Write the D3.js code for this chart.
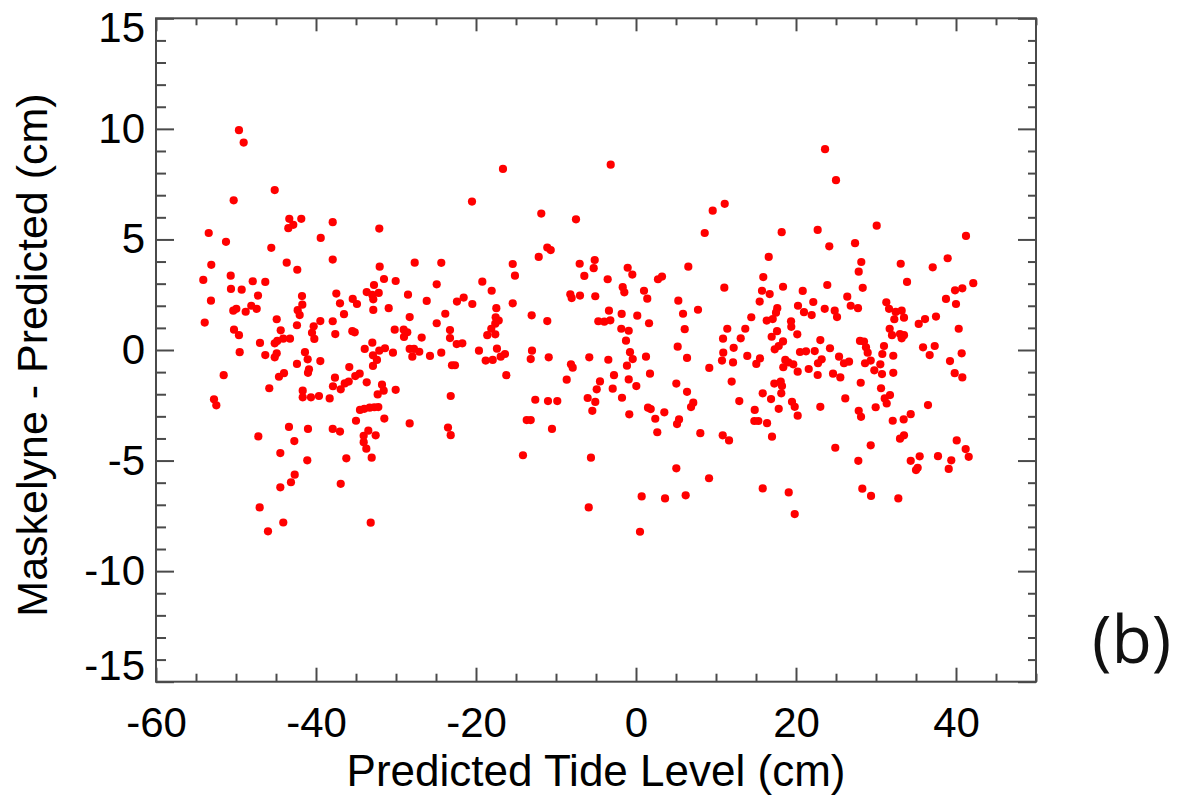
<!DOCTYPE html>
<html>
<head>
<meta charset="utf-8">
<script src="https://cdn.jsdelivr.net/npm/d3@7"></script>
<style>
  html, body { margin: 0; padding: 0; background: #fff; }
  svg { display: block; }
</style>
</head>
<body>
<svg id="chart" width="1188" height="796"></svg>
<script>
// ---- Data ----
const xMajorTicks = [-60, -40, -20, 0, 20, 40];
const yMajorTicks = [-15, -10, -5, 0, 5, 10, 15];
const xTitle = "Predicted Tide Level (cm)";
const yTitle = "Maskelyne - Predicted (cm)";
const panelLabel = "(b)";

// [predicted tide level (cm), Maskelyne - predicted (cm)]
const pointsLow = [
[-49.63,9.94],[-49.04,9.38],[-45.16,7.23],[-50.29,6.77],[-53.41,5.29],[-51.25,4.89],[-43.34,5.93],[-42.84,5.66],[-43.46,5.51],[-41.84,5.93],[-37.91,5.78],[-39.41,5.07],[-32.09,5.49],[-45.59,4.62],[-53.09,3.85],[-43.66,3.95],[-42.34,3.63],[-37.91,4.09],[-32.04,3.77],[-31.5,3.21],[-27.66,3.95],[-54.09,3.17],[-50.66,3.36],[-47.91,3.11],[-46.34,3.08],[-30.04,3.12],[-32.75,2.94],[-50.63,2.76],[-49.29,2.73],[-47.25,2.46],[-41.75,2.44],[-37.46,2.55],[-33.66,2.62],[-32.16,2.58],[-32.96,2.49],[-28.5,2.5],[-53.13,2.23],[-48.09,2.0],[-47.41,1.86],[-41.71,2.05],[-37.0,2.11],[-35.41,2.31],[-34.88,2.08],[-32.84,2.29],[-50.34,1.78],[-49.96,1.86],[-48.79,1.73],[-42.29,1.80],[-42.04,1.58],[-36.5,1.62],[-32.84,1.81],[-30.91,1.89],[-26.16,2.22],[-53.91,1.24],[-44.91,1.39],[-42.38,1.12],[-40.29,1.07],[-39.46,1.31],[-37.91,1.30],[-28.29,1.49],[-50.25,0.92],[-49.63,0.67],[-44.41,0.89],[-40.5,0.78],[-37.59,0.72],[-35.46,0.85],[-35.16,0.80],[-30.16,0.92],[-29.04,0.92],[-28.59,0.80],[-29.0,0.59],[-26.79,0.56],[-44.09,0.51],[-43.25,0.51],[-40.21,0.50],
[-47.0,0.32],[-45.16,0.30],[-44.84,0.41],[-49.54,-0.10],[-46.34,-0.23],[-45.16,-0.33],[-44.91,-0.15],[-41.38,-0.10],[-41.04,-0.42],[-39.46,-0.50],[-42.38,-0.63],[-33.91,0.05],[-32.96,0.33],[-32.88,-0.24],[-32.38,-0.45],[-32.88,-0.72],[-32.09,-0.03],[-31.38,0.08],[-30.38,-0.12],[-28.29,0.05],[-27.75,0.05],[-27.96,-0.30],[-27.09,-0.08],[-25.75,-0.27],[-51.54,-1.14],[-52.75,-2.23],[-52.46,-2.50],[-45.84,-1.73],[-44.63,-1.21],[-44.0,-1.05],[-40.88,-0.87],[-41.0,-1.03],[-41.66,-1.84],[-41.66,-2.14],[-40.63,-2.14],[-39.63,-2.08],[-38.29,-2.19],[-37.63,-1.25],[-37.88,-1.64],[-36.91,-1.78],[-36.41,-1.51],[-35.91,-1.43],[-35.84,-0.77],[-35.09,-1.18],[-34.54,-1.07],[-33.66,-1.46],[-31.75,-1.57],[-31.54,-1.84],[-32.29,-2.01],[-30.04,-1.80],[-34.5,-2.71],[-33.96,-2.66],[-33.29,-2.61],[-32.71,-2.59],[-32.21,-2.58],[-35.0,-3.20],[-31.46,-3.10],[-28.29,-3.32],[-33.46,-3.65],[-34.04,-3.88],[-32.54,-3.86],[-34.04,-4.17],[-33.71,-4.46],[-33.04,-4.87],[-36.21,-4.90],[-37.91,-3.57],[-37.0,-3.69],[-43.38,-3.48],[-41.0,-3.57],[-47.21,-3.91],[-42.71,-4.12],[-44.46,-4.66],[-41.09,-4.99],[-42.66,-5.64],[-43.13,-5.98],[-44.46,-6.21],[-36.91,-6.05],[-47.04,-7.12],[-44.09,-7.80],[-46.0,-8.20],[-33.16,-7.81]
];
const pointsMid = [
[-16.63,8.19],[-3.16,8.38],[-20.5,6.71],[-11.84,6.17],[-7.5,5.91],[9.59,6.30],[11.09,6.61],[8.59,5.29],[-24.34,3.94],[-24.91,2.97],[-15.41,3.89],[-15.13,3.36],[-12.16,4.21],[-11.09,4.63],[-10.66,4.52],[-7.04,3.90],[-5.16,4.07],[-5.29,3.70],[-6.46,3.35],[-3.54,3.20],[-1.04,3.72],[-0.46,3.41],[-1.66,2.84],[-1.46,2.61],[1.0,2.68],[1.41,2.32],[2.75,3.20],[3.25,3.32],[6.54,3.77],[11.04,2.82],[-19.21,3.09],[-18.04,2.68],[-22.38,2.19],[-21.54,2.37],[-20.46,2.08],[-17.46,1.89],[-15.41,2.11],[-8.21,2.52],[-8.04,2.35],[-7.0,2.46],[-5.09,2.43],[-23.84,1.64],[-17.54,1.48],[-17.16,1.33],[-17.59,1.19],[-13.04,1.57],[-11.09,1.31],[-3.38,1.78],[-1.79,1.63],[0.16,1.55],[1.63,1.21],[5.29,2.23],[5.88,1.64],[7.75,1.82],[-24.91,1.21],[-4.71,1.30],[-3.96,1.28],[-3.21,1.34],[-23.25,0.90],[-18.09,0.96],[-18.59,0.67],[-17.59,0.71],[-1.84,0.96],[-0.91,0.87],[6.09,0.94],[11.41,0.96],[10.88,0.51],[-23.25,0.54],
[-22.41,0.27],[-21.71,0.30],[-24.34,-0.12],[-19.63,-0.03],[-18.79,-0.48],[-17.91,-0.45],[-17.38,0.06],[-16.91,-0.30],[-16.38,-0.18],[-23.0,-0.69],[-22.63,-0.69],[-16.21,-1.14],[-13.0,-0.03],[-13.16,-0.41],[-10.91,-0.33],[-8.13,-0.65],[-7.91,-0.80],[-8.66,-1.34],[-5.84,-0.33],[-3.46,-0.44],[-1.25,0.42],[-0.75,-0.10],[-0.41,-0.41],[-1.13,-0.71],[1.25,-0.30],[-2.75,-1.14],[-0.91,-1.33],[1.75,-1.07],[0.04,-1.63],[-4.5,-1.42],[-4.91,-1.78],[-2.91,-1.75],[-1.75,-2.16],[-6.04,-2.17],[-5.09,-2.35],[-5.46,-2.75],[-0.84,-2.91],[1.5,-2.61],[1.84,-2.67],[3.54,-2.82],[2.41,-3.11],[2.66,-3.72],[5.04,-1.52],[6.38,-1.89],[5.21,0.15],[6.38,-0.36],[7.16,-2.38],[6.88,-2.58],[5.38,-3.14],[5.13,-3.35],[8.04,-3.76],[9.16,-0.81],[10.91,-0.12],[10.75,-0.48],[12.21,0.10],[12.13,-0.56],[11.96,-1.43],[10.84,-3.86],[11.63,-4.09],[-12.59,-2.25],[-11.0,-2.31],[-9.84,-2.31],[-13.66,-3.17],[-13.16,-3.17],[-10.5,-3.57],[-23.16,-2.08],[-23.5,-3.51],[-23.16,-3.85],[-14.13,-4.76],[-5.63,-4.87],[5.04,-5.35],[9.13,-5.80],[0.71,-6.62],[3.63,-6.71],[6.21,-6.57],[-5.91,-7.12],[0.5,-8.22]
];
const pointsHigh = [
[23.63,9.08],[25.0,7.68],[18.21,5.33],[22.71,5.43],[24.16,4.69],[30.09,5.62],[27.38,4.83],[41.25,5.16],[16.59,4.21],[15.91,3.30],[15.75,2.68],[16.71,2.53],[18.38,2.86],[15.46,2.19],[28.16,3.98],[27.84,3.54],[28.34,2.81],[23.91,2.94],[20.84,2.67],[22.16,2.17],[20.25,2.0],[21.0,1.71],[21.96,1.58],[23.59,1.86],[24.84,1.78],[25.13,1.49],[26.41,2.41],[26.84,2.0],[27.75,1.89],[33.09,3.90],[33.88,3.08],[37.09,3.74],[38.96,4.15],[42.16,3.02],[40.79,2.79],[39.88,2.70],[38.75,2.31],[40.0,2.08],[31.29,2.16],[31.63,1.86],[32.46,1.72],[33.21,1.78],[32.29,1.39],[33.5,1.46],[17.66,1.89],[17.5,1.69],[17.09,1.40],[16.34,1.33],[19.38,1.30],[19.41,1.05],[14.41,1.48],[13.66,0.96],[13.09,0.53],[17.63,0.85],[16.96,0.60],[20.16,0.71],[31.71,0.96],[32.0,0.67],[33.0,0.72],[33.5,0.67],[33.21,0.53],[35.34,1.18],[36.13,1.40],[37.5,1.51],[40.34,0.96],
[12.91,-2.31],[13.91,-0.27],[15.04,-0.63],[15.5,-0.38],[18.38,0.39],[17.34,0.03],[17.84,0.18],[18.66,-0.45],[19.04,-0.56],[19.66,-0.65],[18.41,-0.78],[20.21,-0.98],[20.5,-0.09],[21.25,-0.06],[22.34,-0.05],[23.04,0.45],[21.59,-0.86],[22.75,-0.60],[23.21,-0.42],[22.71,-1.13],[24.25,0.08],[25.38,-0.30],[26.0,-0.60],[26.63,-0.53],[24.63,-1.07],[25.54,-1.24],[28.0,0.41],[28.5,0.38],[28.75,0.12],[28.96,-0.12],[28.63,-0.60],[29.34,-0.48],[29.79,-0.92],[30.54,-0.65],[30.79,-0.18],[31.0,0.18],[30.75,-1.09],[32.16,-0.26],[32.16,-1.03],[28.09,-1.48],[30.63,-1.73],[31.09,-2.19],[31.34,-2.42],[31.75,-2.04],[29.96,-2.59],[27.84,-2.75],[28.13,-3.02],[26.16,-2.19],[23.04,-2.57],[35.88,0.12],[37.34,0.18],[36.71,-0.23],[39.25,-0.50],[39.84,-1.05],[40.79,-1.24],[40.71,-0.15],[36.5,-2.49],[34.34,-2.90],[33.46,-3.14],[32.09,-3.20],[33.0,-4.01],[33.5,-3.86],[29.34,-4.31],[24.91,-4.42],[27.79,-5.01],[34.34,-5.01],[35.46,-4.81],[35.0,-5.43],[35.21,-5.33],[37.75,-4.80],[39.41,-4.99],[39.09,-5.38],[40.09,-4.09],[41.21,-4.48],[41.59,-4.83],[28.29,-6.27],[29.38,-6.60],[32.79,-6.71],[15.84,-6.26],[19.09,-6.44],[19.84,-7.42],[17.0,-3.92],[16.38,-3.31],[14.79,-3.21],[15.29,-3.21],[14.84,-2.71],[16.88,-2.22],[17.84,-2.66],[15.84,-1.96],[18.16,-1.96],[17.29,-1.52],[18.09,-1.43],[18.25,-1.63],[19.5,-2.34],[19.84,-2.57],[20.21,-2.97]
];

// ---- Layout ----
const margin = { left: 156, top: 18.3, right: 1188 - 1036, bottom: 796 - 681.7 };
const W = 1188, H = 796;
const fontMain = "'Liberation Sans', Arial, Helvetica, sans-serif";
const axisColor = "#4a4a4a";
const fmt = d => String(d);   // plain hyphen-minus as in the reference

const svg = d3.select("#chart");
const x = d3.scaleLinear().domain([-60, 50]).range([margin.left, W - margin.right]);
const y = d3.scaleLinear().domain([-15, 15]).range([H - margin.bottom, margin.top]);

const xMinor = d3.range(-60, 50.001, 5).filter(v => v % 20 !== 0);
const yMinor = d3.range(-15, 15.001, 1).filter(v => v % 5 !== 0);
const xMajorAll = d3.range(-60, 50.001, 20);

function styleAxis(g) {
  g.select(".domain").remove();
  g.selectAll(".tick line").attr("stroke", axisColor).attr("stroke-width", 2);
  g.selectAll(".tick text")
    .attr("fill", "#000")
    .style("font-family", fontMain)
    .style("font-size", "42px");
}

const y0 = y.range()[0], y1 = y.range()[1];
const x0 = x.range()[0], x1 = x.range()[1];

// bottom axis
svg.append("g").attr("transform", `translate(0,${y0})`)
  .call(d3.axisBottom(x).tickValues(xMajorTicks).tickSize(-14).tickPadding(25).tickFormat(fmt))
  .call(styleAxis);
svg.append("g").attr("transform", `translate(0,${y0})`)
  .call(d3.axisBottom(x).tickValues(xMinor).tickSize(-8).tickFormat(""))
  .call(styleAxis);
// top axis
svg.append("g").attr("transform", `translate(0,${y1})`)
  .call(d3.axisTop(x).tickValues(xMajorAll).tickSize(-13).tickFormat(""))
  .call(styleAxis);
svg.append("g").attr("transform", `translate(0,${y1})`)
  .call(d3.axisTop(x).tickValues(xMinor).tickSize(-7).tickFormat(""))
  .call(styleAxis);
// left axis
const leftAxis = svg.append("g").attr("transform", `translate(${x0},0)`)
  .call(d3.axisLeft(y).tickValues(yMajorTicks).tickSize(-18).tickPadding(11).tickFormat(fmt))
  .call(styleAxis);
// end labels are nudged inward so they stay inside the figure, as in the reference
leftAxis.selectAll(".tick text")
  .attr("y", d => d === 15 ? 10 : (d === -15 ? -16 : 0));
svg.append("g").attr("transform", `translate(${x0},0)`)
  .call(d3.axisLeft(y).tickValues(yMinor).tickSize(-10).tickFormat(""))
  .call(styleAxis);
// right axis
svg.append("g").attr("transform", `translate(${x1},0)`)
  .call(d3.axisRight(y).tickValues(yMajorTicks).tickSize(-18).tickFormat(""))
  .call(styleAxis);
svg.append("g").attr("transform", `translate(${x1},0)`)
  .call(d3.axisRight(y).tickValues(yMinor).tickSize(-8).tickFormat(""))
  .call(styleAxis);

// frame
svg.append("rect")
  .attr("x", x0).attr("y", y1)
  .attr("width", x1 - x0).attr("height", y0 - y1)
  .attr("fill", "none").attr("stroke", axisColor).attr("stroke-width", 2);

// points
const allPoints = pointsLow.concat(pointsMid, pointsHigh);
svg.append("g").selectAll("circle").data(allPoints).join("circle")
  .attr("cx", d => x(d[0]))
  .attr("cy", d => y(d[1]))
  .attr("r", 4.1)
  .attr("fill", "#ff0000");

// titles
svg.append("text")
  .attr("x", (x0 + x1) / 2).attr("y", 786)
  .attr("text-anchor", "middle")
  .style("font-family", fontMain).style("font-size", "44px")
  .text(xTitle);

svg.append("text")
  .attr("transform", `translate(47,${(y0 + y1) / 2 + 5}) rotate(-90)`)
  .attr("text-anchor", "middle")
  .style("font-family", fontMain).style("font-size", "43px")
  .text(yTitle);

svg.append("text")
  .attr("x", 1092).attr("y", 663)
  .style("font-family", "'Open Sans', 'Noto Sans', sans-serif").style("font-size", "66px")
  .attr("fill", "#111")
  .text(panelLabel);
</script>
</body>
</html>
